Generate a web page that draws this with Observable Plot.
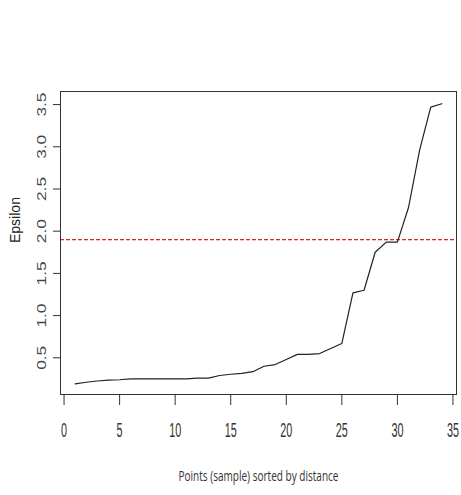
<!DOCTYPE html>
<html><head><meta charset="utf-8">
<script src="https://cdn.jsdelivr.net/npm/d3@7"></script>
<script src="https://cdn.jsdelivr.net/npm/@observablehq/plot@0.6"></script>
<style>html,body{margin:0;padding:0;background:#fff}</style>
</head><body><div id="chart"></div>
<script>
const pointIndex = [1,2,3,4,5,6,7,8,9,10,11,12,13,14,15,16,17,18,19,20,21,22,23,24,25,26,27,28,29,30,31,32,33,34];
const epsilonValues = [0.19,0.21,0.225,0.235,0.24,0.25,0.25,0.25,0.25,0.25,0.25,0.26,0.26,0.29,0.305,0.315,0.335,0.40,0.42,0.48,0.54,0.54,0.55,0.61,0.67,1.27,1.30,1.75,1.87,1.87,2.28,2.96,3.47,3.51];
const thresholdValue = 1.9;
const xTicks = [0,5,10,15,20,25,30,35];
const yTicks = [0.5,1.0,1.5,2.0,2.5,3.0,3.5];
const xLabel = "Points (sample) sorted by distance";
const yLabel = "Epsilon";

const data = pointIndex.map((x, i) => ({x, y: epsilonValues[i]}));

const chart = Plot.plot({
  width: 461, height: 495,
  marginLeft: 60, marginRight: 5, marginTop: 91, marginBottom: 101,
  x: {domain: [-0.32, 35.32]},
  y: {domain: [0.065, 3.655]},
  style: {background: "#fff", color: "#333", fontFamily: "Liberation Sans"},
  marks: [
    Plot.ruleY([thresholdValue], {stroke: "#d92b2b", strokeWidth: 1.3, strokeDasharray: "4,2"}),
    Plot.line(data, {x: "x", y: "y", stroke: "#222", strokeWidth: 1.2}),
    Plot.frame({stroke: "#333"}),
    Plot.axisX({ticks: xTicks, tickSize: 11, tickPadding: 17, label: null, fontSize: 20, fill: "#333", tickFormat: d => String(d)}),
    Plot.axisY({ticks: yTicks, tickSize: 7, tickPadding: 8, tickRotate: -90, label: null, fontSize: 13, fill: "#444", tickFormat: d3.format(".1f")}),
    Plot.text([xLabel], {frameAnchor: "bottom", dy: 86, fontSize: 14, fontFamily: "Open Sans", fill: "#333"}),
    Plot.text([yLabel], {frameAnchor: "left", dx: -45, rotate: -90, fontSize: 14, fill: "#222"})
  ]
});
document.getElementById("chart").appendChild(chart);

const svg = d3.select(chart);
svg.selectAll('g[aria-label="x-axis tick label"] text').each(function() {
  const n = this.textContent.length;
  d3.select(this).attr("textLength", 6 * n).attr("lengthAdjust", "spacingAndGlyphs");
});
svg.selectAll('g[aria-label="y-axis tick label"] text')
  .attr("textLength", 24).attr("lengthAdjust", "spacingAndGlyphs");
svg.selectAll("text").filter(function() { return this.textContent === xLabel; })
  .attr("textLength", 160).attr("lengthAdjust", "spacingAndGlyphs");
</script>
</body></html>
